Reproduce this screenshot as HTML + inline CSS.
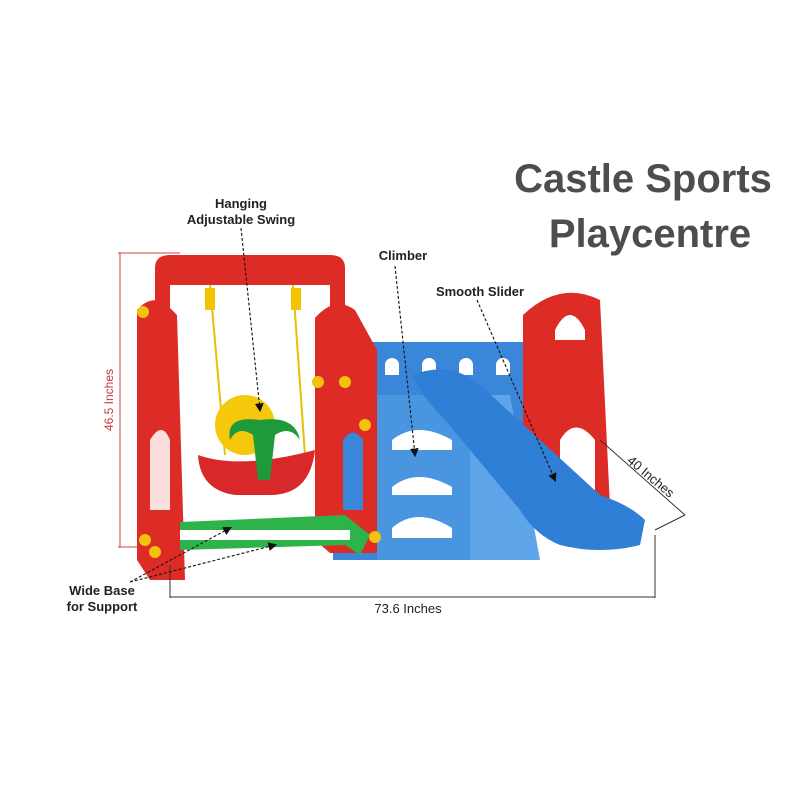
<!DOCTYPE html>
<html><head><style>
body{margin:0;background:#fff;width:800px;height:800px;overflow:hidden}
svg{display:block}
text{font-family:"Liberation Sans",sans-serif}
</style></head><body>
<svg width="800" height="800" viewBox="0 0 800 800">
<defs><marker id="a" markerWidth="8" markerHeight="8" refX="6" refY="4" orient="auto"><path d="M0,0 L8,4 L0,8z" fill="#111"/></marker></defs>
<rect width="800" height="800" fill="#fff"/>
<text x="643" y="192" font-size="40" font-weight="bold" fill="#4d4d4d" text-anchor="middle">Castle Sports</text>
<text x="650" y="247" font-size="40" font-weight="bold" fill="#4d4d4d" text-anchor="middle">Playcentre</text>
<!-- dimension red -->
<line x1="118" y1="253" x2="180" y2="253" stroke="#c44" stroke-width="1"/>
<line x1="118" y1="547" x2="180" y2="547" stroke="#c44" stroke-width="1"/>
<line x1="120" y1="253" x2="120" y2="547" stroke="#c44" stroke-width="1"/>
<text transform="translate(113,400) rotate(-90)" font-size="12" fill="#c33" text-anchor="middle">46.5 Inches</text>
<!-- blue wall -->
<rect x="333" y="342" width="192" height="218" fill="#3a86d8"/>
<g fill="#fff"><path d="M385,375 v-10 a7,7 0 0 1 14,0 v10z"/><path d="M422,375 v-10 a7,7 0 0 1 14,0 v10z"/><path d="M459,375 v-10 a7,7 0 0 1 14,0 v10z"/><path d="M496,375 v-10 a7,7 0 0 1 14,0 v10z"/></g>
<path d="M377,395 L470,395 L470,560 L377,560z" fill="#4a95e0"/>
<path d="M470,395 L510,395 L540,560 L470,560z" fill="#5ea4e8"/>
<g fill="#fff"><path d="M392,440 q25,-20 60,0 v10 h-60z"/><path d="M392,487 q25,-20 60,0 v8 h-60z"/><path d="M392,528 q25,-22 60,0 v10 h-60z"/></g>
<!-- right tower -->
<path d="M523,315 Q560,280 600,300 L610,507 L545,507 L523,480z" fill="#dd2b25"/>
<path d="M555,330 q15,-30 30,0 v10 h-30z" fill="#fff"/>
<path d="M560,440 q15,-25 35,0 v50 h-35z" fill="#fff"/>
<!-- slide -->
<path d="M413,375 Q450,360 480,385 L600,495 Q630,505 645,520 L640,545 Q600,555 560,545 Q535,535 520,510 L445,420 Q420,395 413,375z" fill="#2f7fd6"/>
<!-- swing arch -->
<path d="M155,310 L155,268 Q155,255 170,255 L330,255 Q345,255 345,268 L345,310 L330,310 L330,285 L170,285 L170,310z" fill="#dd2b25"/>
<!-- left pillar -->
<path d="M137,310 Q150,295 165,303 L177,315 L185,580 L150,580 L137,560z" fill="#dd2b25"/>
<path d="M150,440 q12,-20 20,0 v70 h-20z" fill="#fff" opacity=".85"/>
<!-- right swing pillar -->
<path d="M315,318 Q335,295 355,310 L377,350 L377,553 L330,553 L315,540z" fill="#dd2b25"/>
<path d="M343,440 q10,-15 20,0 v70 h-20z" fill="#3a86d8"/>
<!-- ropes -->
<line x1="210" y1="285" x2="225" y2="455" stroke="#e6c200" stroke-width="2"/>
<line x1="293" y1="285" x2="305" y2="455" stroke="#e6c200" stroke-width="2"/>
<rect x="205" y="288" width="10" height="22" fill="#f5c400"/>
<rect x="291" y="288" width="10" height="22" fill="#f5c400"/>
<!-- swing -->
<circle cx="245" cy="425" r="30" fill="#f5c80c"/>
<path d="M198,455 Q240,470 315,450 Q310,495 270,495 L235,495 Q200,490 198,455z" fill="#d8282a"/>
<path d="M230,440 q-5,-25 30,-20 q35,-5 40,20 q-10,-15 -25,-5 l-5,45 h-12 l-5,-45 q-15,-10 -23,5z" fill="#1f9a3a"/>
<!-- green base -->
<path d="M180,522 L345,515 L370,535 L360,555 L345,545 L180,550z" fill="#2db34a"/>
<rect x="180" y="530" width="170" height="10" fill="#fff"/>
<!-- yellow knobs -->
<g fill="#f2c20e"><circle cx="143" cy="312" r="6"/><circle cx="365" cy="425" r="6"/><circle cx="345" cy="382" r="6"/><circle cx="145" cy="540" r="6"/><circle cx="155" cy="552" r="6"/><circle cx="375" cy="537" r="6"/><circle cx="318" cy="382" r="6"/></g>
<!-- bottom dimension -->
<line x1="170" y1="565" x2="170" y2="598" stroke="#333" stroke-width="1"/>
<line x1="655" y1="535" x2="655" y2="598" stroke="#333" stroke-width="1"/>
<line x1="170" y1="597" x2="655" y2="597" stroke="#333" stroke-width="1"/>
<text x="408" y="613" font-size="13" fill="#222" text-anchor="middle">73.6 Inches</text>
<line x1="600" y1="440" x2="685" y2="515" stroke="#333" stroke-width="1"/>
<line x1="655" y1="530" x2="685" y2="515" stroke="#333" stroke-width="1"/>
<text transform="translate(648,480) rotate(40)" font-size="13" fill="#222" text-anchor="middle">40 Inches</text>
<!-- labels -->
<g font-size="13" font-weight="bold" fill="#222" text-anchor="middle">
<text x="241" y="208">Hanging</text><text x="241" y="224">Adjustable Swing</text>
<text x="403" y="260">Climber</text>
<text x="480" y="296">Smooth Slider</text>
<text x="102" y="595">Wide Base</text><text x="102" y="611">for Support</text>
</g>
<g stroke="#111" stroke-dasharray="3,2" fill="none" stroke-width="1.1">
<line x1="241" y1="228" x2="260" y2="410" marker-end="url(#a)"/>
<line x1="395" y1="266" x2="415" y2="455" marker-end="url(#a)"/>
<line x1="477" y1="300" x2="555" y2="480" marker-end="url(#a)"/>
<line x1="130" y1="582" x2="230" y2="528" marker-end="url(#a)"/>
<line x1="130" y1="582" x2="275" y2="545" marker-end="url(#a)"/>
</g>
</svg>
</body></html>
